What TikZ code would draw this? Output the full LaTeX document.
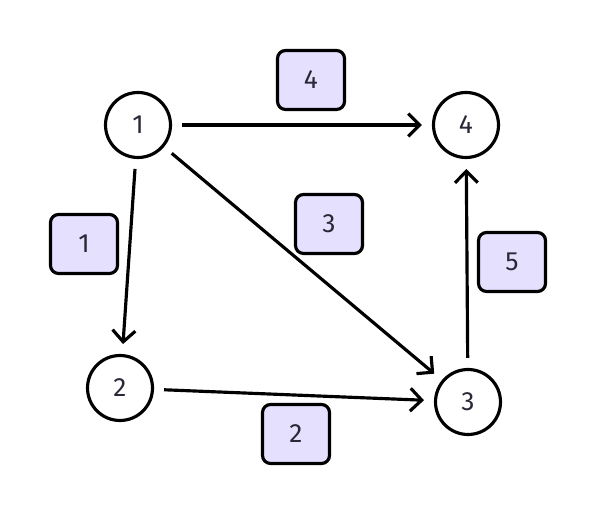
\documentclass[tikz,border=0pt]{standalone}
\usepackage{fontspec}
\setmainfont{Fira Sans}
\usepackage{tikz}
\usetikzlibrary{arrows.meta}
\definecolor{wtxt}{RGB}{40,40,55}
\definecolor{wfill}{RGB}{230,224,255}
\tikzset{
  vertex/.style={draw,circle,line width=1.8pt,minimum size=1.3cm,inner sep=0pt,
    font=\fontsize{15}{17}\selectfont,text=wtxt},
  wbox/.style={draw,fill=wfill,rounded corners=0.16cm,line width=1.8pt,
    minimum width=1.34cm,minimum height=1.18cm,inner sep=0pt,
    font=\fontsize{15}{17}\selectfont,text=wtxt},
  edge/.style={line width=1.8pt,-{Straight Barb[length=6.5pt,width=13pt,line width=1.8pt]},
    shorten <=0.2cm,shorten >=0.2cm}
}
\begin{document}
\begin{tikzpicture}[x=0.02cm,y=-0.02cm]
  \useasboundingbox (0,0) rectangle (598,516);
  % vertices
  \node[vertex] (v1) at (138,125) {1};
  \node[vertex] (v4) at (466,125) {4};
  \node[vertex] (v2) at (120,388) {2};
  \node[vertex] (v3) at (468,402) {3};
  % weights
  \node[wbox] (w14) at (311,80) {4};
  \node[wbox] (w12) at (84,244) {1};
  \node[wbox] (w13) at (329,224) {3};
  \node[wbox] (w34) at (512,262) {5};
  \node[wbox] (w23) at (296,434) {2};
  % edges
  \draw[edge] (v1) -- (v4);
  \draw[edge] (v1) -- (v2);
  \draw[edge] (v1) -- (v3);
  \draw[edge] (v2) -- (v3);
  \draw[edge] (v3) -- (v4);
\end{tikzpicture}
\end{document}
